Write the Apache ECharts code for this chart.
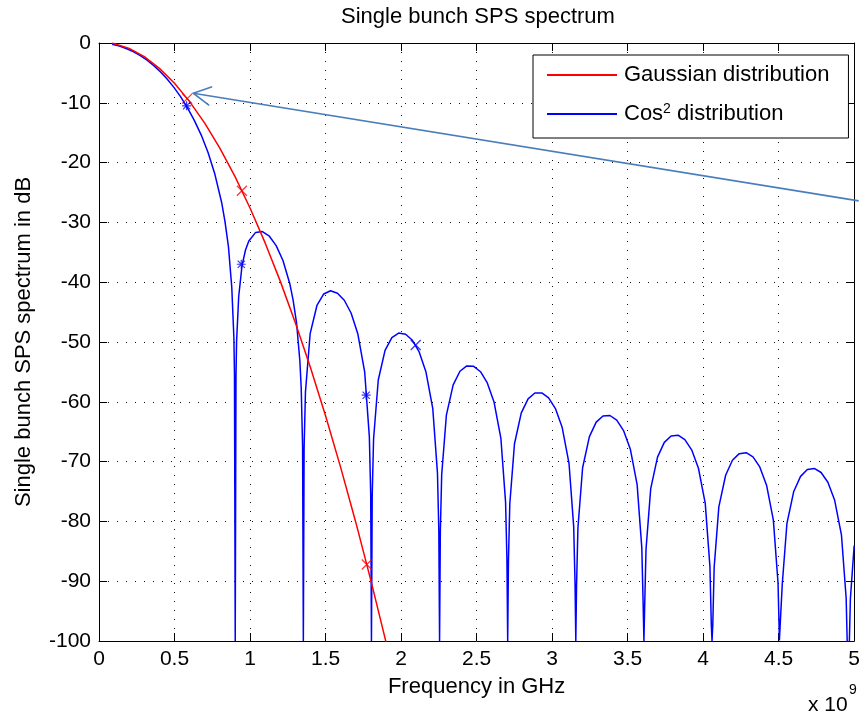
<!DOCTYPE html>
<html>
<head>
<meta charset="utf-8">
<script src="https://cdn.jsdelivr.net/npm/echarts@6/dist/echarts.min.js"></script>
<style>
html,body{margin:0;padding:0;background:#fff;}
#chart{width:863px;height:715px;}
</style>
</head>
<body>
<div id="chart"></div>
<script>
// ---- data (frequency in GHz, spectrum in dB) ----
const xTicks = [0, 0.5, 1, 1.5, 2, 2.5, 3, 3.5, 4, 4.5, 5];
const yTicks = [0, -10, -20, -30, -40, -50, -60, -70, -80, -90, -100];

const redName = 'Gaussian distribution';
const blueName = 'Cos2 distribution';

const redFreq = [0.087,0.1,0.2,0.3,0.4,0.5,0.6,0.7,0.8,0.9,1.0,1.1,1.2,1.3,1.4,1.5,1.6,1.7,1.8,1.9,1.95];
const redDb = [0,-0.07,-0.90,-2.29,-4.24,-6.74,-9.80,-13.41,-17.58,-22.31,-27.59,-33.43,-39.82,-46.77,-54.28,-62.34,-70.96,-80.13,-89.86,-100.15,-105.5];

const blueFreq = [0.087,0.135,0.180,0.226,0.271,0.316,0.361,0.406,0.451,0.496,0.541,0.586,0.631,0.677,0.722,0.767,0.812,0.834,0.857,0.879,0.893,0.897,0.902,0.907,0.911,0.925,0.947,0.970,0.992,1.037,1.082,1.128,1.173,1.218,1.263,1.285,1.308,1.330,1.339,1.348,1.353,
1.358,1.367,1.398,1.443,1.488,1.533,1.579,1.624,1.669,1.714,1.759,1.790,1.799,1.804,
1.809,1.818,1.849,1.894,1.939,1.984,2.030,2.075,2.120,2.165,2.210,2.241,2.250,2.255,
2.260,2.269,2.300,2.345,2.390,2.435,2.481,2.526,2.571,2.616,2.661,2.692,2.701,2.706,
2.711,2.720,2.751,2.796,2.841,2.886,2.932,2.977,3.022,3.067,3.112,3.143,3.152,3.157,
3.162,3.171,3.202,3.247,3.292,3.337,3.383,3.428,3.473,3.518,3.563,3.594,3.603,3.608,
3.613,3.622,3.653,3.698,3.743,3.788,3.834,3.879,3.924,3.969,4.014,4.045,4.054,4.059,
4.064,4.073,4.104,4.149,4.194,4.239,4.285,4.330,4.375,4.420,4.465,4.496,4.505,4.510,
4.515,4.524,4.555,4.600,4.645,4.690,4.736,4.781,4.826,4.871,4.916,4.947,4.956,4.961,
4.966,4.975,5.000];
const blueDb = [-0.21,-0.51,-0.91,-1.42,-2.07,-2.84,-3.75,-4.80,-6.02,-7.42,-9.01,-10.84,-12.94,-15.40,-18.32,-21.92,-26.67,-29.83,-34.05,-40.81,-49.22,-55.40,-100,-55.72,-49.86,-42.39,-37.24,-34.62,-33.10,-31.67,-31.54,-32.31,-33.89,-36.38,-40.21,-42.95,-46.79,-53.18,-57.79,-67.52,-100,
-67.70,-58.34,-48.61,-43.89,-41.97,-41.43,-41.85,-43.02,-45.15,-48.67,-54.98,-65.82,-75.50,-100,
-75.63,-66.23,-56.35,-51.41,-49.26,-48.50,-48.70,-49.71,-51.67,-55.02,-61.16,-71.89,-81.53,-100,
-81.64,-72.21,-62.24,-57.17,-54.89,-54.00,-54.07,-54.97,-56.84,-60.08,-66.13,-76.78,-86.40,-100,
-86.49,-77.05,-67.01,-61.86,-59.50,-58.53,-58.51,-59.34,-61.13,-64.31,-70.28,-80.88,-90.49,-100,
-90.57,-81.11,-71.03,-65.82,-63.40,-62.37,-62.29,-63.07,-64.81,-67.93,-73.85,-84.42,-94.02,-100,
-94.08,-84.62,-74.51,-69.25,-66.79,-65.71,-65.59,-66.33,-68.03,-71.11,-76.99,-87.53,-97.12,-100,
-97.18,-87.71,-77.57,-72.28,-69.78,-68.67,-68.51,-69.22,-70.89,-73.94,-79.79,-90.31,-99.89,-100,
-99.95,-90.47,-80.32,-74.99,-72.47,-71.32,-71.14,-71.82,-73.46,-76.48,-82.31,-92.81,-102.39,-105,
-102.43,-92.95,-84.03];

// data-tip markers
const redCrossX = [0.584, 0.946, 1.773];
const redCrossY = [-9.3, -24.7, -87.2];
const blueStarX = [0.580, 0.942, 1.769];
const blueStarY = [-10.5, -37.0, -58.9];
const blueCrossX = [2.097];
const blueCrossY = [-50.5];

// annotation arrow (data units)
const arrowTip = [0.624, -8.4];
const arrowTail = [5.03, -26.4];

// ---- build ----
const pairs = (xs, ys) => xs.map((x, i) => [x, ys[i]]);
const FONT = 'Liberation Sans, Arial, Helvetica, sans-serif';
const chart = echarts.init(document.getElementById('chart'), null, {renderer: 'canvas'});

const crossPath = 'path://M0,0L10,10M10,0L0,10';
const starPath = 'path://M1,1L9,9M9,1L1,9M5,0L5,10M0,5L10,5';

const gridLine = {show: true, lineStyle: {color: '#111', width: 1, type: [1, 8]}};
const axisLineStyle = {show: true, onZero: false, lineStyle: {color: '#000', width: 1}};
const tick = {show: true, inside: true, length: 8, lineStyle: {color: '#000', width: 1}};

const option = {
  animation: false,
  backgroundColor: '#fff',
  textStyle: {fontFamily: FONT},
  title: {
    text: 'Single bunch SPS spectrum',
    left: 341, top: 6, padding: 0,
    textStyle: {fontFamily: FONT, fontSize: 22, fontWeight: 'normal', color: '#000'}
  },
  grid: {left: 99, right: 4, top: 43, bottom: 74, containLabel: false},
  legend: {
    orient: 'vertical',
    left: 533, top: 55,
    padding: [8, 19, 12, 14],
    itemGap: 15,
    itemWidth: 70, itemHeight: 2,
    backgroundColor: '#fff',
    borderColor: '#000', borderWidth: 1, borderRadius: 0,
    data: [{name: redName, icon: 'rect'}, {name: blueName, icon: 'rect'}],
    formatter: n => n === blueName ? 'Cos{sup|2} distribution' : n,
    textStyle: {
      fontFamily: FONT, fontSize: 22, color: '#000', lineHeight: 24, padding: [0, 0, 0, 2],
      rich: {sup: {fontFamily: FONT, fontSize: 14, color: '#000', padding: [0, 0, 10, 0]}}
    }
  },
  xAxis: [{
    type: 'value', min: 0, max: 5, interval: 0.5, position: 'bottom',
    axisLine: axisLineStyle, axisTick: tick, splitLine: gridLine,
    axisLabel: {fontSize: 21, color: '#000', margin: 8, fontFamily: FONT},
    name: 'Frequency in GHz', nameLocation: 'middle', nameGap: 35,
    nameTextStyle: {fontSize: 22, color: '#000', fontFamily: FONT}
  }, {
    type: 'value', min: 0, max: 5, interval: 0.5, position: 'top',
    axisLine: axisLineStyle, axisTick: tick, splitLine: {show: false},
    axisLabel: {show: false}
  }],
  yAxis: [{
    type: 'value', min: -100, max: 0, interval: 10, position: 'left',
    axisLine: axisLineStyle, axisTick: tick, splitLine: gridLine,
    axisLabel: {fontSize: 21, color: '#000', margin: 8, fontFamily: FONT},
    name: 'Single bunch SPS spectrum in dB', nameLocation: 'middle', nameGap: 64,
    nameTextStyle: {fontSize: 22, color: '#000', fontFamily: FONT}
  }, {
    type: 'value', min: -100, max: 0, interval: 10, position: 'right',
    axisLine: axisLineStyle, axisTick: tick, splitLine: {show: false},
    axisLabel: {show: false}
  }],
  series: [{
    name: redName, type: 'line', xAxisIndex: 0, yAxisIndex: 0,
    data: pairs(redFreq, redDb), symbol: 'none', clip: true,
    lineStyle: {color: '#ff0000', width: 1.5}, itemStyle: {color: '#ff0000'}, z: 3
  }, {
    name: blueName, type: 'line', xAxisIndex: 0, yAxisIndex: 0,
    data: pairs(blueFreq, blueDb), symbol: 'none', clip: true,
    lineStyle: {color: '#0000ff', width: 1.5}, itemStyle: {color: '#0000ff'}, z: 2
  }, {
    name: 'redMarks', type: 'scatter', data: pairs(redCrossX, redCrossY),
    symbol: crossPath, symbolSize: 10, z: 4,
    itemStyle: {color: 'rgba(0,0,0,0)', borderColor: '#ff0000', borderWidth: 1.2}
  }, {
    name: 'blueStars', type: 'scatter', data: pairs(blueStarX, blueStarY),
    symbol: starPath, symbolSize: 9, z: 4,
    itemStyle: {color: 'rgba(0,0,0,0)', borderColor: '#0000ff', borderWidth: 1.2}
  }, {
    name: 'blueCross', type: 'scatter', data: pairs(blueCrossX, blueCrossY),
    symbol: crossPath, symbolSize: 10, z: 4,
    itemStyle: {color: 'rgba(0,0,0,0)', borderColor: '#0000ff', borderWidth: 1.2}
  }]
};
chart.setOption(option);

// arrow annotation and exponent label
const tip = chart.convertToPixel({seriesIndex: 0}, arrowTip);
const tail = chart.convertToPixel({seriesIndex: 0}, arrowTail);
const ang = Math.atan2(tail[1] - tip[1], tail[0] - tip[0]);
const wl = 20, spread = 28 * Math.PI / 180;
const w1 = [tip[0] + wl * Math.cos(ang - spread), tip[1] + wl * Math.sin(ang - spread)];
const w2 = [tip[0] + wl * Math.cos(ang + spread), tip[1] + wl * Math.sin(ang + spread)];
const arrowColor = '#4a7ebb';

chart.setOption({
  graphic: [
    {type: 'line', z: 10, shape: {x1: tip[0], y1: tip[1], x2: tail[0], y2: tail[1]},
      style: {stroke: arrowColor, lineWidth: 1.6}},
    {type: 'polyline', z: 10, shape: {points: [w1, tip, w2]},
      style: {stroke: arrowColor, lineWidth: 1.6, fill: null}},
    {type: 'text', z: 10, x: 808, y: 695,
      style: {text: 'x 10', font: '21px ' + FONT, fill: '#000'}},
    {type: 'text', z: 10, x: 849, y: 683,
      style: {text: '9', font: '14px ' + FONT, fill: '#000'}}
  ]
});
</script>
</body>
</html>
